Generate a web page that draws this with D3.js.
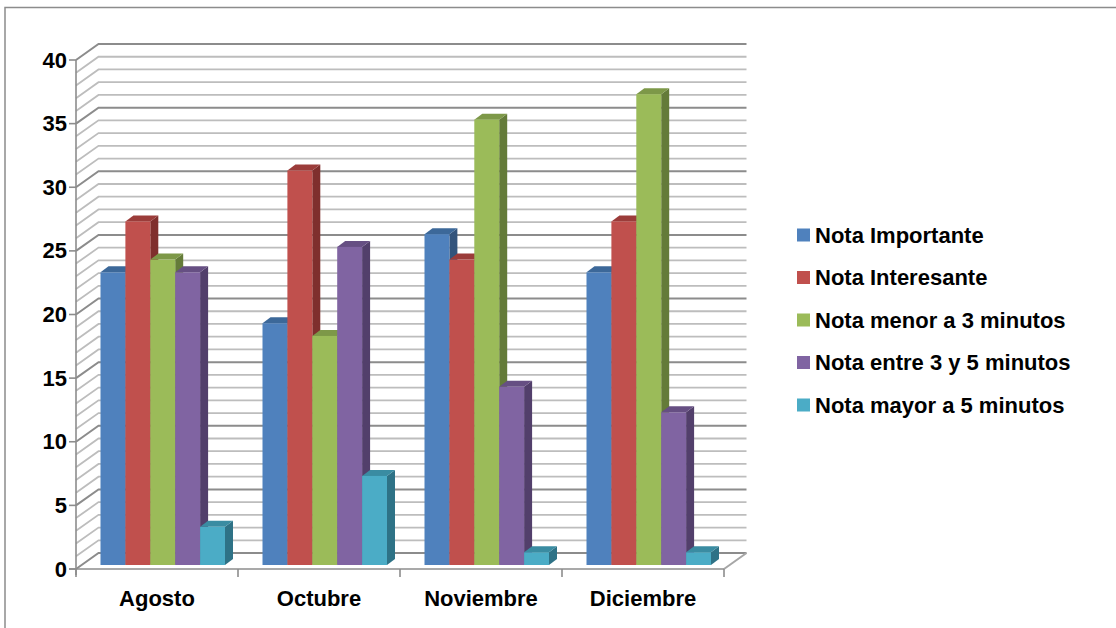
<!DOCTYPE html>
<html><head><meta charset="utf-8">
<script src="https://cdn.jsdelivr.net/npm/d3@7"></script>
<style>html,body{margin:0;padding:0;background:#fff}svg{display:block;font-family:"Liberation Sans",Arial,sans-serif;font-weight:bold;fill:#000}</style>
</head><body><svg id="c" width="1116" height="628"></svg>
<script>
const categories=["Agosto","Octubre","Noviembre","Diciembre"];
const seriesNames=["Nota Importante","Nota Interesante","Nota menor a 3 minutos","Nota entre 3 y 5 minutos","Nota mayor a 5 minutos"];
const notaImportante=[23,19,26,23];
const notaInteresante=[27,31,24,27];
const notaMenor3=[24,18,35,37];
const notaEntre3y5=[23,25,14,12];
const notaMayor5=[3,7,1,1];
const yTicks=[0,5,10,15,20,25,30,35,40];
const gridValues=d3.range(0,41);
const seriesValues=[notaImportante,notaInteresante,notaMenor3,notaEntre3y5,notaMayor5];
const front=["#4f81bd","#c0504d","#9bbb59","#8064a2","#4bacc6"];
const topC=["#3c6899","#9b3c3a","#7d9848","#664f83","#3a8ca2"];
const side=["#33547c","#7f2f2d","#647b39","#523f6b","#2e7286"];

const svg=d3.select("#c");
const x0=76,x1=724,yB=569,yT=60,dx=22.5,dy=-16;
const y=d3.scaleLinear().domain([0,40]).range([yB,yT]);
const x=d3.scaleBand().domain(categories).range([x0,x1]);
const barBand=d3.scaleBand().domain(d3.range(seriesNames.length)).range([24.5,149]);
const barDx=0.5*0,barLift=4,depthX=8,depthY=6;

svg.append("rect").attr("x",5).attr("y",7.5).attr("width",1200).attr("height",800)
  .attr("fill","#fff").attr("stroke","#8c8c8c").attr("stroke-width",1.5);

const grid=svg.append("g").attr("fill","none");
grid.selectAll("path.g").data(gridValues).join("path")
  .attr("d",v=>`M${x0},${y(v)}L${x0+dx},${y(v)+dy}L${x1+dx},${y(v)+dy}`)
  .attr("stroke",v=>v%5===0?"#8c8c8c":"#bdbdbd").attr("stroke-width",v=>v%5===0?2:1.8);
// floor + axes
svg.append("path").attr("d",`M${x1},${yB}L${x1+dx},${yB+dy}`).attr("stroke","#a6a6a6").attr("stroke-width",2).attr("fill","none");
svg.append("rect").attr("x",x0+1).attr("y",0).attr("width",0).attr("height",0);
const ax=svg.append("g").attr("stroke","#8c8c8c").attr("stroke-width",1.6);
ax.append("line").attr("x1",x0).attr("x2",x0).attr("y1",yT).attr("y2",yB+6);
ax.append("line").attr("x1",x0-7).attr("x2",x1).attr("y1",yB).attr("y2",yB);
ax.selectAll("line.yt").data(yTicks).join("line").attr("x1",x0-7).attr("x2",x0).attr("y1",d=>y(d)).attr("y2",d=>y(d));
ax.selectAll("line.xt").data(d3.range(categories.length+1)).join("line")
  .attr("x1",i=>x0+i*x.step()).attr("x2",i=>x0+i*x.step()).attr("y1",yB).attr("y2",yB+8);

svg.append("g").selectAll("text").data(yTicks).join("text")
  .attr("x",x0-9).attr("y",d=>y(d)+7.5).attr("text-anchor","end").attr("font-size",22).text(d=>d);
svg.append("g").selectAll("text").data(categories).join("text")
  .attr("x",d=>x(d)+x.step()/2).attr("y",606).attr("text-anchor","middle").attr("font-size",22).text(d=>d);

const bars=svg.append("g");
categories.forEach((c,ci)=>{
  seriesValues.forEach((vals,si)=>{
    const v=vals[ci],bx=x(c)+barBand(si),w=barBand.bandwidth();
    const b=y(0)-barLift,t=y(v)-barLift;
    const g=bars.append("g");
    g.append("path").attr("fill",side[si]).attr("d",`M${bx+w},${t}L${bx+w+depthX},${t-depthY}L${bx+w+depthX},${b-depthY}L${bx+w},${b}Z`);
    g.append("path").attr("fill",topC[si]).attr("d",`M${bx},${t}L${bx+depthX},${t-depthY}L${bx+w+depthX},${t-depthY}L${bx+w},${t}Z`);
    g.append("rect").attr("x",bx).attr("y",t).attr("width",w).attr("height",b-t).attr("fill",front[si]);
  });
});

const ly=d3.scalePoint().domain(seriesNames).range([235,405]);
const leg=svg.append("g").selectAll("g").data(seriesNames).join("g").attr("transform",d=>`translate(797,${ly(d)})`);
leg.append("rect").attr("x",0).attr("y",-6.5).attr("width",13).attr("height",13).attr("fill",(d,i)=>front[i]);
leg.append("text").attr("x",18).attr("y",7.5).attr("font-size",22).text(d=>d);
</script></body></html>
